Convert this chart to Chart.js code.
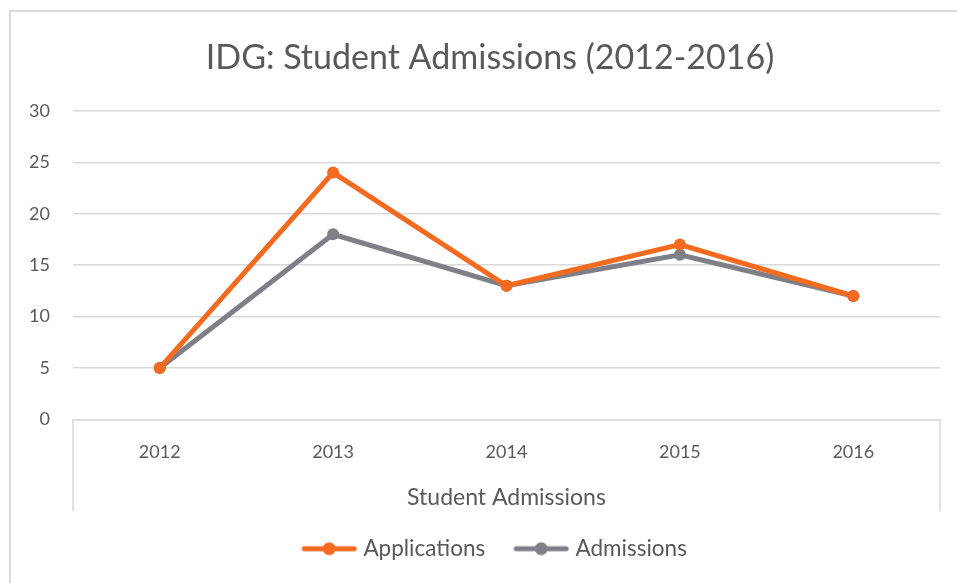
<!DOCTYPE html>
<html>
<head>
<meta charset="utf-8">
<script src="https://cdn.jsdelivr.net/npm/chart.js@4"></script>
<style>
    body { margin: 0; background: #fff; overflow: hidden; }
    #frame {
        position: absolute;
        left: 9px;
        top: 10px;
        border-left: 2px solid #d9d9d9;
        border-top: 2px solid #d9d9d9;
    }
    canvas { display: block; }
</style>
</head>
<body>
<div id="frame"><canvas id="chart1" width="958" height="573"></canvas></div>
<script>
var years = ['2012', '2013', '2014', '2015', '2016']
var applications = [5, 24, 13, 17, 12]
var admissions = [5, 18, 13, 16, 12]

var orange = '#f46a1f'
var grey = '#7f7f87'
var textColor = '#595959'
var gridColor = '#d9d9d9'

// legend box is wider than the marker; the marker is drawn on the right side of
// its picture so it sits close to its text and far from the previous item
var markerBox = 69
function legendMarker(color) {
    var c = document.createElement('canvas')
    c.width = markerBox + 10
    c.height = 16
    var ctx = c.getContext('2d')
    var x0 = c.width - 56
    ctx.strokeStyle = color
    ctx.lineWidth = 5
    ctx.lineCap = 'round'
    ctx.beginPath()
    ctx.moveTo(x0 + 3, 8)
    ctx.lineTo(c.width - 3, 8)
    ctx.stroke()
    ctx.fillStyle = color
    ctx.beginPath()
    ctx.arc(x0 + 28, 8, 6.5, 0, Math.PI * 2)
    ctx.fill()
    return c
}

// the two short vertical lines under the plot area, like Excel draws them
var sideLines = {
    id: 'sideLines',
    afterLayout: function(chart) {
        // pull the legend a bit left, the empty part of the first marker box pushes it right
        chart.legend.left -= 5
        chart.legend.right -= 5
    },
    beforeDatasetsDraw: function(chart) {
        var a = chart.chartArea
        var ctx = chart.ctx
        ctx.save()
        ctx.strokeStyle = gridColor
        ctx.lineWidth = 1.5
        ctx.beginPath()
        ctx.moveTo(a.left, a.bottom)
        ctx.lineTo(a.left, a.bottom + 92)
        ctx.moveTo(a.right, a.bottom)
        ctx.lineTo(a.right, a.bottom + 92)
        ctx.stroke()
        ctx.restore()
    }
}

var dataChart1 = {
    labels: years,
    datasets: [
        {
            label: 'Applications',
            data: applications,
            borderColor: orange,
            backgroundColor: orange,
            borderWidth: 5,
            pointRadius: 6,
            pointHoverRadius: 6,
            pointBorderWidth: 0,
            pointStyle: 'circle'
        },
        {
            label: 'Admissions',
            data: admissions,
            borderColor: grey,
            backgroundColor: grey,
            borderWidth: 5,
            pointRadius: 6,
            pointHoverRadius: 6,
            pointBorderWidth: 0,
            pointStyle: 'circle'
        }
    ]
}

var configChart1 = {
    type: 'line',
    data: dataChart1,
    options: {
        responsive: false,
        animation: false,
        layout: {
            padding: { left: 0, right: 0, top: 26, bottom: 15 }
        },
        scales: {
            x: {
                offset: true,
                grid: { display: false },
                border: { display: true, color: gridColor, width: 1.5 },
                ticks: {
                    color: textColor,
                    padding: 14,
                    font: { family: 'Lato', size: 18 }
                },
                title: {
                    display: true,
                    text: 'Student Admissions',
                    color: textColor,
                    font: { family: 'Lato', size: 23 },
                    padding: { top: 0, bottom: 16 }
                },
                afterFit: function(scale) {
                    scale.height = 108
                }
            },
            y: {
                min: 0,
                max: 30,
                ticks: {
                    stepSize: 5,
                    color: textColor,
                    padding: 23,
                    font: { family: 'Lato', size: 18 }
                },
                grid: {
                    color: gridColor,
                    lineWidth: 1.5,
                    drawTicks: false
                },
                border: { display: false },
                afterFit: function(scale) {
                    scale.width = 62
                }
            },
            // empty right axis, only keeps space at the right of the plot
            yRight: {
                position: 'right',
                min: 0,
                max: 30,
                ticks: { display: false },
                grid: { display: false, drawTicks: false },
                border: { display: false },
                afterFit: function(scale) {
                    scale.width = 29
                }
            }
        },
        plugins: {
            title: {
                display: true,
                text: 'IDG: Student Admissions (2012-2016)',
                color: textColor,
                font: { family: 'Lato', size: 34, weight: 'normal' },
                padding: { top: 0, bottom: 32 }
            },
            legend: {
                position: 'bottom',
                labels: {
                    color: textColor,
                    font: { family: 'Lato', size: 22.5 },
                    usePointStyle: true,
                    pointStyleWidth: markerBox,
                    boxHeight: 16,
                    padding: 10,
                    generateLabels: function(chart) {
                        return chart.data.datasets.map(function(ds, i) {
                            return {
                                text: ds.label,
                                pointStyle: legendMarker(ds.borderColor),
                                fillStyle: ds.borderColor,
                                strokeStyle: ds.borderColor,
                                fontColor: textColor,
                                lineWidth: 0,
                                hidden: false,
                                datasetIndex: i
                            }
                        })
                    }
                }
            },
            tooltip: { enabled: false }
        }
    },
    plugins: [sideLines]
};

var chart1 = new Chart(
    document.getElementById('chart1'),
    configChart1
);
</script>
</body>
</html>
